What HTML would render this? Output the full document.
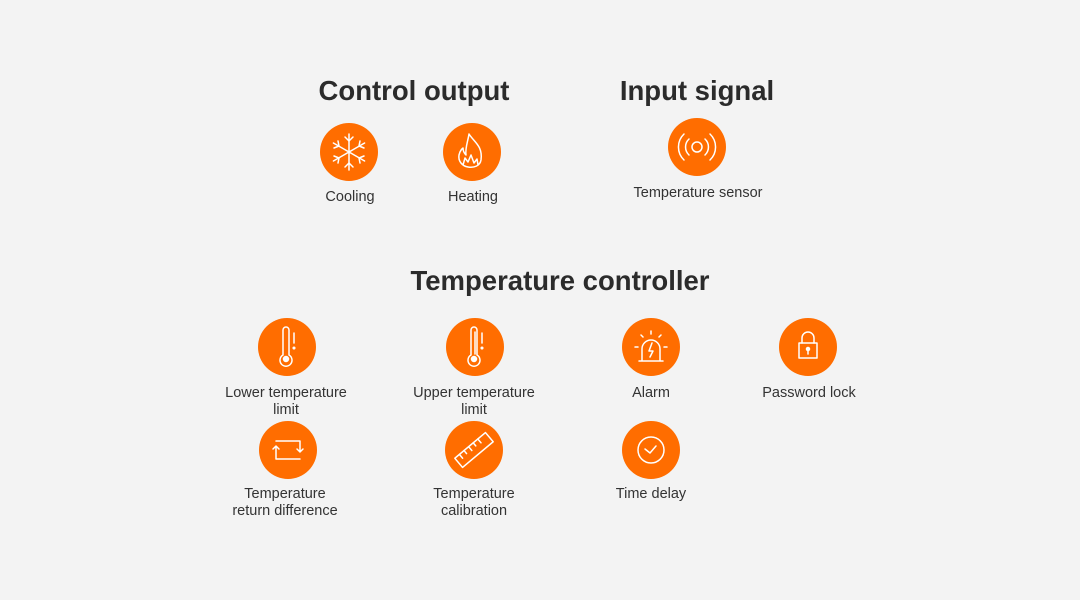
<!DOCTYPE html>
<html><head><meta charset="utf-8"><style>
body{margin:0;width:1080px;height:600px;background:#f3f3f3;position:relative;overflow:hidden;font-family:"Liberation Sans",sans-serif;color:#333}
.h{position:absolute;font-weight:bold;font-size:27.5px;color:#2b2b2b;transform:translateX(-50%);white-space:nowrap;line-height:30px}
.l{position:absolute;font-size:14.5px;line-height:16.5px;text-align:center;transform:translateX(-50%);white-space:nowrap;color:#333}
svg{position:absolute;left:0;top:0}
</style></head><body>
<div class="h" style="left:414px;top:76px">Control output</div>
<div class="h" style="left:697px;top:76px">Input signal</div>
<div class="h" style="left:560px;top:266px">Temperature controller</div>

<div class="l" style="left:350px;top:189px">Cooling</div>
<div class="l" style="left:473px;top:189px">Heating</div>
<div class="l" style="left:698px;top:185px">Temperature sensor</div>
<div class="l" style="left:286px;top:385px">Lower temperature<br>limit</div>
<div class="l" style="left:474px;top:385px">Upper temperature<br>limit</div>
<div class="l" style="left:651px;top:385px">Alarm</div>
<div class="l" style="left:809px;top:385px">Password lock</div>
<div class="l" style="left:285px;top:486px">Temperature<br>return difference</div>
<div class="l" style="left:474px;top:486px">Temperature<br>calibration</div>
<div class="l" style="left:651px;top:486px">Time delay</div>

<svg width="1080" height="600" fill="none" stroke="#fff" stroke-width="1.5" stroke-linecap="round" stroke-linejoin="round">
<g fill="#ff6d00" stroke="none">
<circle cx="349" cy="152" r="29"/><circle cx="472" cy="152" r="29"/><circle cx="697" cy="147" r="29"/>
<circle cx="287" cy="347" r="29"/><circle cx="475" cy="347" r="29"/><circle cx="651" cy="347" r="29"/><circle cx="808" cy="347" r="29"/>
<circle cx="288" cy="450" r="29"/><circle cx="474" cy="450" r="29"/><circle cx="651" cy="450" r="29"/>
</g>
<g transform="translate(349,152)">
<path d="M0-18V18M-15.6-9L15.6 9M-15.6 9L15.6-9"/>
<path d="M-4-15L0-11L4-15M-4 15L0 11L4 15M-15-4L-10-6L-11-11M15 4L10 6L11 11M-15 4L-10 6L-11 11M15-4L10-6L11-11"/>
</g>
<path d="M469 134C474 142 483 146 481 160C480 166 474 168 468 167C462 166 458 161 459 155C460 150 463 148 463 148C463 152 465 154 466 155C465 148 468 141 469 134Z M463 165L465 158L468 162L471 155L474 163L477 159L478 165"/>
<circle cx="697" cy="147" r="5"/>
<path d="M689 139A11 11 0 0 0 689 155M705 139A11 11 0 0 1 705 155M684 134A18 18 0 0 0 684 160M710 134A18 18 0 0 1 710 160"/>
<g id="t"><path d="M283 355V330A3 3 0 0 1 289 330V355A6 6 0 1 1 283 355Z"/><circle cx="286" cy="359" r="2.5" fill="#fff"/><path d="M294 333V343"/><circle cx="294" cy="348" r="0.8" fill="#fff"/></g>
<use href="#t" x="188"/>
<path d="M475 332V354" />
<path d="M639 361H663M642 361V349A9 9 0 0 1 660 349V361M652 343L649 351H653L650 357M651 331V334M641 335L643 337M661 335L659 337M635 347H638M664 347H667"/>
<rect x="799" y="343" width="18" height="15" /><path d="M802 343V338A6 6 0 0 1 814 338V343"/><circle cx="808" cy="349" r="1.5" fill="#fff"/><path d="M808 350V354"/>
<path d="M276 446V459H300M276 441H300V452M273 449L276 446L279 449M297 449L300 452L303 449"/>
<g transform="translate(474,450) rotate(-40)"><rect x="-20" y="-6" width="40" height="12"/><path d="M-14-6V-1M-8-6V-2M-2-6V-1M4-6V-2M10-6V-1"/></g>
<circle cx="651" cy="450" r="13"/><path d="M645 449L650 453L656 446"/>
</svg>
</body></html>
